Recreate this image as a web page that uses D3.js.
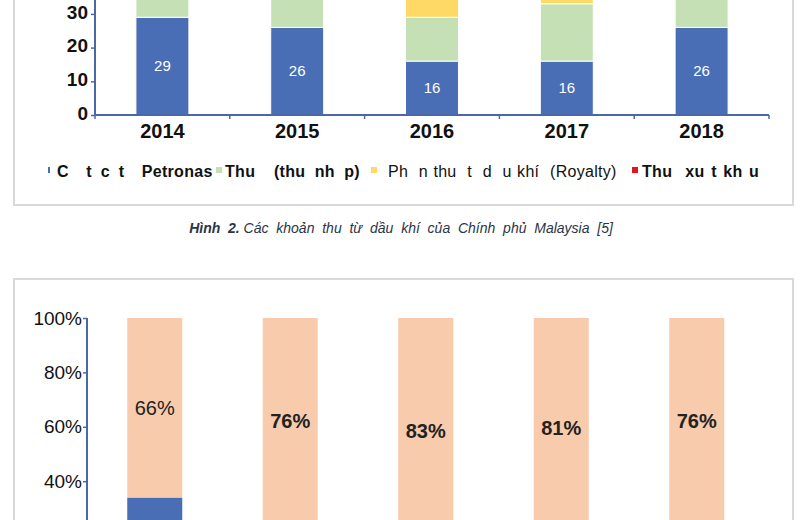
<!DOCTYPE html>
<html>
<head>
<meta charset="utf-8">
<script src="https://cdn.jsdelivr.net/npm/d3@7"></script>
<style>
  body { margin: 0; background: #fff; }
  svg { display: block; font-family: "Liberation Sans", Arial, sans-serif; }
  text { white-space: pre; }
</style>
</head>
<body>
<svg width="800" height="520"></svg>
<script>
// Top chart: revenue components (stacked)
const years = ['2014', '2015', '2016', '2017', '2018'];
const dividend = [29, 26, 16, 16, 26];
const incomeTax = [24, 16, 13, 17, 14];
const royalty = [6, 5, 6, 5, 6];
const exportDuty = [2, 1, 1, 1, 1];
const seriesNames = ['C  t c t  Petronas', 'Thu  (thu nh p)', 'Ph  n thu  t  d  u khí  (Royalty)', 'Thu  xu t kh u'];
const topTicks = [0, 10, 20, 30];

// Bottom chart: 100% stacked shares
const shareLow = [0.34, 0.24, 0.17, 0.19, 0.24];
const shareHigh = [0.66, 0.76, 0.83, 0.81, 0.76];
const pctTicks = [0.4, 0.6, 0.8, 1];

const captionLead = 'Hình  2.';
const captionRest = ' Các  khoản  thu  từ  dầu  khí  của  Chính  phủ  Malaysia  [5]';

const svg = d3.select('svg');
const axisCol = '#4a68a8';
const colors = ['#4a6eb5', '#c5e0b4', '#ffd966', '#e8141c'];

// frames (document boxes)
svg.append('rect').attr('x', 14).attr('y', -10).attr('width', 779).attr('height', 215)
	.attr('fill', 'none').attr('stroke', '#d9d9d9').attr('stroke-width', 2);
svg.append('rect').attr('x', 14).attr('y', 279).attr('width', 779).attr('height', 320)
	.attr('fill', 'none').attr('stroke', '#d9d9d9').attr('stroke-width', 2);

// ---------- top chart ----------
let keys = ['dividend', 'incomeTax', 'royalty', 'exportDuty'];
let rows = years.map((yr, i) => ({
	year: yr, dividend: dividend[i], incomeTax: incomeTax[i],
	royalty: royalty[i], exportDuty: exportDuty[i]
}));
let stacked = d3.stack().keys(keys)(rows);

let x1 = d3.scaleBand().domain(years).range([95, 769]).paddingInner(0.607).paddingOuter(0.3035);
let y1 = d3.scaleLinear().domain([0, 70]).range([115, 115 - 33.7 * 7]);

let g1 = svg.append('g');
g1.selectAll('g.layer').data(stacked).enter()
	.append('g').attr('class', 'layer').attr('fill', (d, i) => colors[i])
	.selectAll('rect').data(d => d).enter()
	.append('rect')
	.attr('x', d => x1(d.data.year))
	.attr('width', x1.bandwidth())
	.attr('y', d => y1(d[1]))
	.attr('height', d => y1(d[0]) - y1(d[1]))
	.attr('stroke', '#fff').attr('stroke-width', 1);

// value labels on first series
g1.selectAll('text.val').data(stacked[0]).enter()
	.append('text').attr('class', 'val')
	.attr('x', d => x1(d.data.year) + x1.bandwidth() / 2)
	.attr('y', d => (y1(d[0]) + y1(d[1])) / 2)
	.attr('dy', '0.35em')
	.attr('text-anchor', 'middle')
	.attr('fill', '#fff').attr('font-size', 15)
	.text(d => d[1] - d[0]);

// left axis (line runs past the top edge like the cropped original)
g1.append('line').attr('x1', 95).attr('x2', 95).attr('y1', y1(70)).attr('y2', 115)
	.attr('stroke', axisCol).attr('stroke-width', 2);
let ax1 = g1.append('g').attr('transform', 'translate(95,0)')
	.call(d3.axisLeft(y1).tickValues(topTicks).tickSize(4).tickPadding(3).tickFormat(d3.format('d')));
ax1.select('.domain').remove();
ax1.selectAll('.tick line').attr('stroke', axisCol).attr('stroke-width', 1.5);
ax1.selectAll('.tick text').attr('font-size', 19).attr('font-weight', 'bold')
	.attr('fill', '#111').attr('dy', '0.22em').attr('font-family', null);

// bottom axis
let ax1b = g1.append('g').attr('transform', 'translate(0,115)')
	.call(d3.axisBottom(x1).tickSize(0).tickPadding(9));
ax1b.select('.domain').remove();
ax1b.selectAll('.tick text').attr('font-size', 20).attr('font-weight', 'bold')
	.attr('fill', '#111').attr('font-family', null);
g1.append('line').attr('x1', 95).attr('x2', 769).attr('y1', 115).attr('y2', 115)
	.attr('stroke', axisCol).attr('stroke-width', 2);
g1.selectAll('line.bnd').data(d3.range(years.length + 1)).enter()
	.append('line').attr('class', 'bnd')
	.attr('x1', i => x1.range()[0] + i * x1.step())
	.attr('x2', i => x1.range()[0] + i * x1.step())
	.attr('y1', 115).attr('y2', 119)
	.attr('stroke', axisCol).attr('stroke-width', 1.5);

// legend (marker x, text x, weight, word spacing)
const legendPos = [
	{ m: 48, t: 57, b: 'bold', ws: 4 },
	{ m: 216, t: 225, b: 'bold', ws: 4.6 },
	{ m: 371, t: 388, b: 'normal', ws: 0.6 },
	{ m: 632, t: 642, b: 'bold', ws: 1.8 }
];
let leg = svg.append('g').selectAll('g').data(seriesNames).enter().append('g');
leg.append('rect')
	.attr('x', (d, i) => legendPos[i].m).attr('y', 167)
	.attr('width', (d, i) => i === 0 ? 2 : 6).attr('height', 6)
	.attr('fill', (d, i) => colors[i]);
leg.append('text')
	.attr('x', (d, i) => legendPos[i].t).attr('y', 177)
	.attr('font-size', 16)
	.attr('font-weight', (d, i) => legendPos[i].b)
	.attr('letter-spacing', 0.3)
	.attr('word-spacing', (d, i) => legendPos[i].ws)
	.attr('fill', '#111')
	.text(d => d);

// caption
let cap = svg.append('text').attr('x', 401).attr('y', 233)
	.attr('text-anchor', 'middle').attr('font-size', 14)
	.attr('font-style', 'italic').attr('fill', '#2c3448');
cap.append('tspan').attr('font-weight', 'bold').text(captionLead);
cap.append('tspan').text(captionRest);

// ---------- bottom chart ----------
let x2 = d3.scaleBand().domain(years).range([87, 764.5]).paddingInner(0.594).paddingOuter(0.297);
let y2 = d3.scaleLinear().domain([0, 1]).range([590, 318]);

let g2 = svg.append('g');
g2.selectAll('rect.low').data(years).enter()
	.append('rect').attr('class', 'low')
	.attr('x', d => x2(d)).attr('width', x2.bandwidth())
	.attr('y', (d, i) => y2(shareLow[i]))
	.attr('height', (d, i) => y2(0) - y2(shareLow[i]))
	.attr('fill', colors[0]);
g2.selectAll('rect.high').data(years).enter()
	.append('rect').attr('class', 'high')
	.attr('x', d => x2(d)).attr('width', x2.bandwidth())
	.attr('y', (d, i) => y2(shareLow[i] + shareHigh[i]))
	.attr('height', (d, i) => y2(shareLow[i]) - y2(shareLow[i] + shareHigh[i]))
	.attr('fill', '#f8cbad');
g2.selectAll('text.pct').data(years).enter()
	.append('text').attr('class', 'pct')
	.attr('x', d => x2(d) + x2.bandwidth() / 2)
	.attr('y', (d, i) => (y2(shareLow[i]) + y2(shareLow[i] + shareHigh[i])) / 2)
	.attr('dy', '0.35em')
	.attr('text-anchor', 'middle')
	.attr('font-size', 20)
	.attr('font-weight', (d, i) => i === 0 ? 'normal' : 'bold')
	.attr('fill', '#222')
	.text((d, i) => Math.round(shareHigh[i] * 100) + '%');

// left axis: line continues below the crop
g2.append('line').attr('x1', 87).attr('x2', 87).attr('y1', y2(1)).attr('y2', y2(0))
	.attr('stroke', axisCol).attr('stroke-width', 2);
let ax2 = g2.append('g').attr('transform', 'translate(87,0)')
	.call(d3.axisLeft(y2).tickValues(pctTicks).tickSize(4).tickPadding(1).tickFormat(d3.format('.0%')));
ax2.select('.domain').remove();
ax2.selectAll('.tick line').attr('stroke', axisCol).attr('stroke-width', 1.5);
ax2.selectAll('.tick text').attr('font-size', 19)
	.attr('fill', '#111').attr('font-family', null);
</script>
</body>
</html>
